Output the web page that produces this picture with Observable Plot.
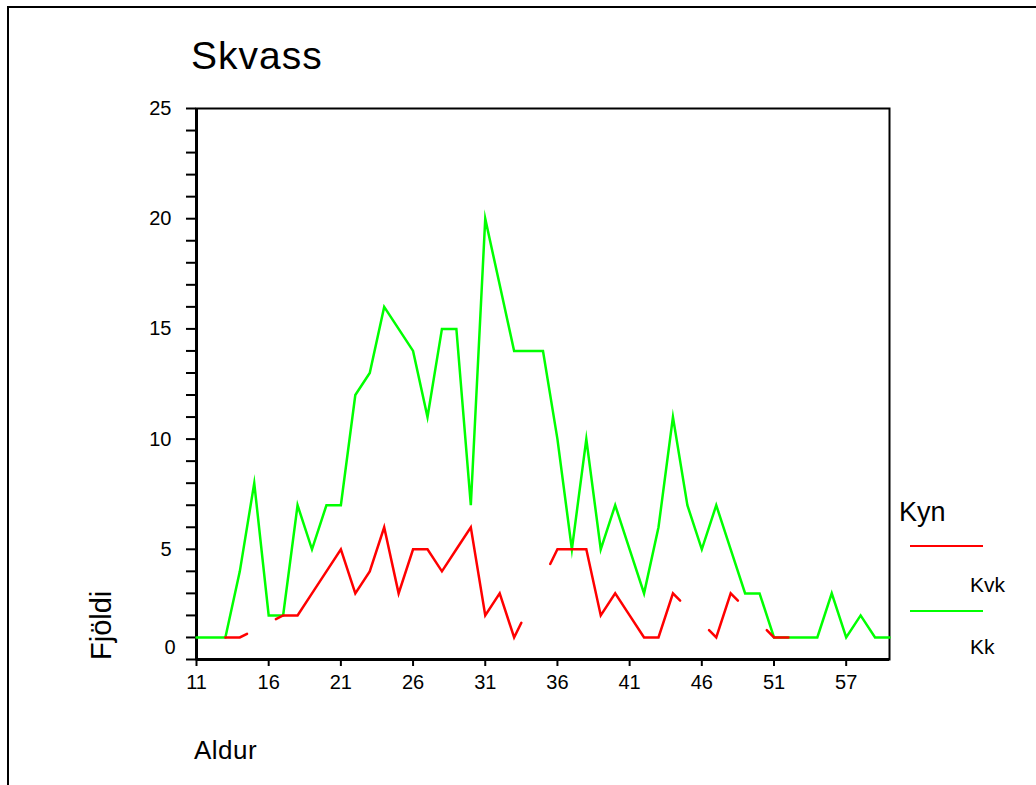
<!DOCTYPE html>
<html>
<head>
<meta charset="utf-8">
<script src="https://cdn.jsdelivr.net/npm/d3@7"></script>
<script src="https://cdn.jsdelivr.net/npm/@observablehq/plot@0.6"></script>
<style>
  html, body { margin: 0; padding: 0; background: #fff; }
  #wrap { position: relative; width: 1036px; height: 785px; overflow: hidden; font-family: "Liberation Sans", Arial, sans-serif; color: #000; }
  #wrap svg { position: absolute; left: 0; top: 0; }
  #wrap svg text { font-size: 20px; }
  .border { position: absolute; left: 7px; top: 6px; width: 1200px; height: 900px; border-top: 2px solid #000; border-left: 2px solid #000; }
  .t { position: absolute; line-height: 1; white-space: nowrap; }
  .lg { position: absolute; height: 2px; }
</style>
</head>
<body>
<div id="wrap">
  <div class="border"></div>
</div>
<script>
// Categories (ages present on the categorical x axis)
const ages = [11,12,13,14,15,16,17,18,19,20,21,22,23,24,25,26,27,28,29,30,31,32,33,34,35,36,37,38,39,40,41,42,43,44,45,46,47,48,49,50,51,52,53,54,56,57,58,59,60];
// Kk (green)
const kk  = [1,1,1,4,8,2,2,7,5,7,7,12,13,16,15,14,11,15,15,7,20,17,14,14,14,10,5,10,5,7,5,3,6,11,7,5,7,5,3,3,1,1,1,1,3,1,2,1,1];
// Kvk (red), null = no value for that age
const kvk = [null,null,1,1,null,null,2,2,3,4,5,3,4,6,3,5,5,4,5,6,2,3,1,null,null,5,5,5,2,3,2,1,1,3,null,null,1,3,null,null,1,1,null,null,null,null,null,null,null];
// Tick labels
const xTickAges = [11,16,21,26,31,36,41,46,51,57];
const yTickLabels = [5,10,15,20,25];
const seriesNames = ["Kvk", "Kk"];
const seriesColors = ["#ff0000", "#00ff00"];

const greenData = kk.map((v, i) => ({i, v}));

// Red line: consecutive values joined; across missing categories SPSS draws
// half-step stubs along the line to the next valid value.
const redData = [];
let seg = 0, prev = null;
kvk.forEach((v, i) => {
  if (v == null) return;
  if (prev && i - prev.i > 1) {
    const slope = (v - prev.v) / (i - prev.i);
    redData.push({i: prev.i + 0.5, v: prev.v + slope * 0.5, seg});
    seg++;
    redData.push({i: i - 0.5, v: v - slope * 0.5, seg});
  }
  redData.push({i, v, seg});
  prev = {i, v};
});

const xTicks = xTickAges.map(a => ages.indexOf(a));
const yTicks = d3.range(0, 26);

const chart = Plot.plot({
  width: 1036,
  height: 785,
  marginTop: 108,
  marginBottom: 126,
  marginLeft: 196,
  marginRight: 147,
  style: {background: "transparent", fontFamily: "Liberation Sans, Arial, sans-serif", fontSize: "20px", color: "#000", overflow: "visible"},
  x: {type: "linear", domain: [0, ages.length - 1]},
  y: {domain: [0, 25]},
  marks: [
    Plot.frame({stroke: "#000", strokeWidth: 2}),
    Plot.axisY(yTicks, {tickSize: 10, tickPadding: 15, strokeWidth: 2, fontSize: 20,
      tickFormat: d => yTickLabels.includes(d) ? String(d) : "", label: null}),
    Plot.axisY([0], {tickSize: 0, tickPadding: 25, dx: 4, dy: -12, fontSize: 20,
      tickFormat: d => String(d), label: null}),
    Plot.axisX(xTicks, {tickSize: 7, tickPadding: 8, strokeWidth: 2, fontSize: 20,
      tickFormat: i => String(ages[i]), label: null}),
    Plot.ruleX([0], {stroke: "#000", strokeWidth: 3}),
    Plot.ruleY([0], {stroke: "#000", strokeWidth: 3}),
    Plot.line(greenData, {x: "i", y: "v", stroke: seriesColors[1], strokeWidth: 2.5, strokeLinejoin: "miter", strokeMiterlimit: 10}),
    Plot.line(redData, {x: "i", y: "v", z: "seg", stroke: seriesColors[0], strokeWidth: 2.5, strokeLinejoin: "miter", strokeMiterlimit: 10})
  ]
});

const wrap = document.getElementById("wrap");
wrap.insertBefore(chart, wrap.firstChild);

function addText(txt, left, top, size, extra) {
  const d = document.createElement("div");
  d.className = "t";
  d.textContent = txt;
  d.style.left = left + "px";
  d.style.top = top + "px";
  d.style.fontSize = size + "px";
  if (extra) Object.assign(d.style, extra);
  wrap.appendChild(d);
}
function addLine(color, left, top, width) {
  const d = document.createElement("div");
  d.className = "lg";
  d.style.left = left + "px";
  d.style.top = top + "px";
  d.style.width = width + "px";
  d.style.background = color;
  wrap.appendChild(d);
}

addText("Skvass", 191, 36, 39, {letterSpacing: "1px"});
addText("Aldur", 194, 737, 26, {letterSpacing: "0.5px"});
addText("Fjöldi", 87, 660, 29);
wrap.lastChild.style.transformOrigin = "0 0";
wrap.lastChild.style.transform = "rotate(-90deg)";
addText("Kyn", 899, 499, 27);
addLine(seriesColors[0], 910, 545, 73);
addText(seriesNames[0], 970, 574, 21);
addLine(seriesColors[1], 910, 610, 73);
addText(seriesNames[1], 970, 636, 21);
</script>
</body>
</html>
